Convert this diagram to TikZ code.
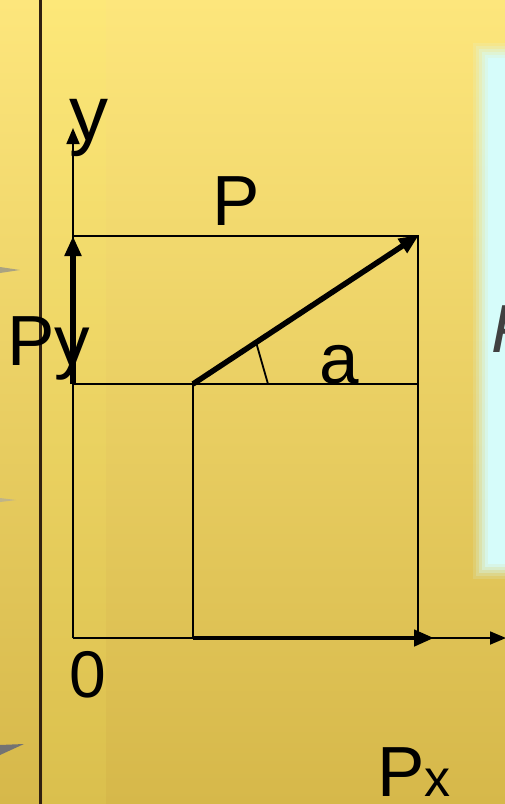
\documentclass[tikz,border=0pt]{standalone}
\usepackage{fontspec}
\setmainfont{Liberation Sans}
\usepackage{tikz}
\usetikzlibrary{arrows.meta,positioning,calc}

\definecolor{bgtop}{RGB}{253,230,124}
\definecolor{bgbot}{RGB}{214,184,74}
\definecolor{panel}{RGB}{214,252,250}

\tikzset{
  thinline/.style={line width=1.8pt, black},
  axisarrow/.style={thinline, -{Triangle[length=16pt,width=13pt]}},
  forcearrow/.style={line width=5.5pt, black, -{Triangle[length=20pt,width=16pt]}},
  lbl/.style={inner sep=0pt, anchor=base west, font=\fontsize{71}{71}\selectfont},
}

\begin{document}
\begin{tikzpicture}[x=1pt,y=-1pt]
    \useasboundingbox (0,0) rectangle (505,804);
    % background
    \shade[top color=bgtop, bottom color=bgbot] (0,0) rectangle (505,804);
    \fill[yellow!60!white, opacity=0.12] (43,0) rectangle (106,804);
    \fill[black!75!brown] (39,0) rectangle (41.5,804);
    \fill[black!45, opacity=0.7] (0,267) -- (20,270) -- (0,273) -- cycle;
    \fill[black!35, opacity=0.6] (0,498) -- (16,500) -- (0,502) -- cycle;
    \fill[black!55] (0,745) -- (24,744) -- (0,755) -- cycle;

    % panel on the right
    \foreach \d/\o in {0/0.15,3/0.2,6/0.3,9/0.4,12/0.6,15/1}
        \fill[panel, opacity=\o] (473+\d,43+\d) rectangle (530,579-\d);
    \node[inner sep=0pt, anchor=base west, text=black!75,
          font=\fontsize{68}{68}\selectfont\itshape] (pcut) at (491,352) {P};

    % points
    \coordinate (O) at (73,638);
    \coordinate (Ytip) at (73,128);
    \coordinate (Xtip) at (506,638);
    \coordinate (A) at (193,384);
    \coordinate (B) at (419,235);
    \coordinate (Py0) at (73,384);
    \coordinate (Py1) at (73,236);
    \coordinate (C) at (418,236);
    \coordinate (R) at (418,384);
    \coordinate (Ax) at (193,638);
    \coordinate (Bx) at (418,638);
    \coordinate (Pxtip) at (434,638);
    \coordinate (M1) at (256,342);
    \coordinate (M2) at (268,384);

    % axes and frame
    \draw[axisarrow] (O) -- (Ytip);
    \draw[axisarrow] (O) -- (Xtip);
    \draw[thinline] (Py1) -- (C) -- (Bx);
    \draw[thinline] (Py0) -- (R);
    \draw[thinline] (A) -- (Ax);
    \draw[thinline] (M1) -- (M2);

    % force and its projections
    \draw[forcearrow] (A) -- (B);
    \draw[forcearrow] (Py0) -- (Py1);
    \draw[forcearrow, line width=4.5pt] (Ax) -- (Pxtip);

    % labels
    \node[lbl, font=\fontsize{78}{78}\selectfont] (ylbl) at (69,140) {y};
    \node[lbl] (plbl) at (212,225) {P};
    \node[lbl] (pylbl) at (7,365) {Py};
    \node[lbl] (albl) at (319,383) {a};
    \node[lbl, font=\fontsize{66}{66}\selectfont] (olbl) at (69,697) {0};
    \node[lbl] (pxlbl) at (377,796) {P\fontsize{52}{52}\selectfont x};
\end{tikzpicture}
\end{document}
